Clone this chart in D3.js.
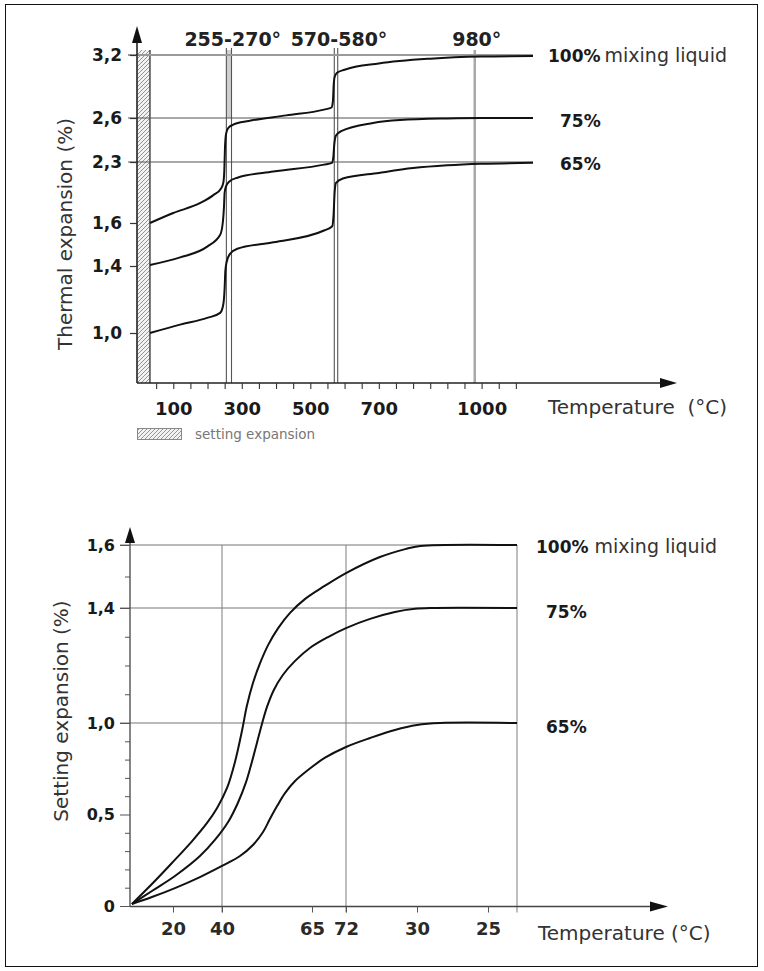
<!DOCTYPE html>
<html><head><meta charset="utf-8">
<script src="https://cdn.jsdelivr.net/npm/d3@7"></script>
<style>
body{margin:0;background:#fff}
svg{display:block}
text{font-family:"DejaVu Sans",Verdana,sans-serif}
</style>
</head><body>
<svg id="c" width="764" height="971"></svg>
<script>
// ---------- DATA ----------
// Top chart: thermal expansion (%) vs temperature (°C)
const thermalTickLevels = [1.0, 1.4, 1.6, 2.3, 2.6, 3.2];
const thermalGridLevels = [2.3, 2.6, 3.2];
const thermalTickTemps = [100, 300, 500, 700, 1000];
const transitionTemps = [255, 270, 570, 580];
const transitionMajor = 980;
const transitionLabels = ["255-270°", "570-580°", "980°"];
const transitionLabelTemps = [262, 575, 980];
const thermal100 = [[32,1.6],[100,1.715],[179,1.83],[217,1.92],[240,2.0],[246,2.06],[249,2.2],[251,2.4],[254,2.49],[260,2.53],[275,2.555],[320,2.58],[430,2.625],[540,2.68],[562,2.7],[566,2.76],[568,2.9],[571,2.99],[578,3.03],[600,3.06],[700,3.12],[850,3.165],[1000,3.185],[1150,3.19]];
const thermal75  = [[32,1.405],[120,1.44],[199,1.49],[237,1.545],[245,1.62],[248,1.78],[250,1.95],[254,2.02],[262,2.07],[287,2.12],[392,2.19],[540,2.27],[563,2.29],[567,2.33],[570,2.42],[575,2.48],[590,2.51],[683,2.566],[762,2.586],[900,2.597],[1000,2.6],[1150,2.6]];
const thermal65  = [[32,1.0],[120,1.05],[199,1.09],[237,1.12],[246,1.17],[250,1.27],[252,1.37],[256,1.42],[265,1.455],[287,1.48],[392,1.51],[540,1.565],[564,1.585],[568,1.7],[571,1.95],[575,2.06],[595,2.11],[700,2.175],[800,2.23],[900,2.262],[1000,2.28],[1150,2.29]];
const thermalSeriesLabels = ["100%", "75%", "65%"];

// Bottom chart: setting expansion (%) vs time/temperature
const settingTickLevels = [0, 0.5, 1.0, 1.4, 1.6];
const settingGridLevels = [1.0, 1.4, 1.6];
const settingTickPos = [20, 40, 65, 72, 90, 110];
const settingTickLabels = ["20", "40", "65", "72", "30", "25"];
const settingGridPos = [40, 72, 118];
const setting100 = [[0.9,0.011],[10.2,0.12],[19.5,0.235],[27.8,0.355],[33.9,0.454],[38,0.536],[41.4,0.645],[43.6,0.787],[45.6,0.962],[46.9,1.059],[48.6,1.139],[50.6,1.209],[52.8,1.271],[55.6,1.33],[58.9,1.383],[63.1,1.429],[67.6,1.47],[72,1.511],[80.6,1.562],[87,1.587],[90.9,1.597],[118,1.6]];
const setting75  = [[0.9,0.011],[10.2,0.082],[20.8,0.164],[31,0.273],[37.1,0.361],[41.7,0.459],[44.4,0.563],[46.7,0.678],[48.3,0.787],[49.7,0.891],[51.1,0.995],[52.5,1.056],[54.4,1.115],[56.9,1.167],[60.3,1.216],[64.4,1.261],[68.3,1.299],[72,1.33],[78.1,1.362],[84.4,1.386],[89.5,1.397],[93.7,1.4],[118,1.4]];
const setting65  = [[0.9,0.011],[10.2,0.049],[20.8,0.098],[31,0.158],[40,0.219],[45,0.273],[48.6,0.333],[51.4,0.404],[53.3,0.475],[55.3,0.546],[57.5,0.617],[60.3,0.683],[63.9,0.743],[67.6,0.809],[72,0.869],[78.1,0.918],[84.4,0.962],[90,0.989],[96.5,1.0],[118,1.0]];
const settingSeriesLabels = ["100%", "75%", "65%"];

// ---------- DRAW ----------
const svg = d3.select("#c");
svg.append("rect").attr("x",5.5).attr("y",4.5).attr("width",752).attr("height",962)
  .attr("fill","none").attr("stroke","#111").attr("stroke-width",1);

const defs = svg.append("defs");
const pat = defs.append("pattern").attr("id","hatch").attr("patternUnits","userSpaceOnUse")
  .attr("width",4).attr("height",4);
pat.append("rect").attr("width",4).attr("height",4).attr("fill","#f2f2f2");
pat.append("path").attr("d","M-1,1 l2,-2 M0,4 l4,-4 M3,5 l2,-2").attr("stroke","#8a8a8a").attr("stroke-width",0.9);

const comma = d => d === 0 ? "0" : d.toFixed(1).replace(".", ",");
const lineCol = "#111";

// ===== TOP CHART =====
const xT = d3.scaleLinear().domain([0, 1150]).range([139, 533]);
const yT = d3.scaleLinear().domain([0.7, 1.0, 1.4, 1.6, 2.3, 2.6, 3.2]).range([383, 333, 266, 223, 162, 118, 55]);
const axisX0 = 137, topBase = 383, topTop = 50;
const gTop = svg.append("g");

gTop.append("rect").attr("x",axisX0).attr("y",topTop).attr("width",xT(32)-axisX0).attr("height",topBase-topTop)
  .attr("fill","url(#hatch)");
gTop.append("line").attr("x1",xT(32)).attr("x2",xT(32)).attr("y1",topTop).attr("y2",topBase)
  .attr("stroke","#333").attr("stroke-width",1.3);

gTop.append("rect").attr("x",xT(transitionTemps[0])).attr("y",topTop)
  .attr("width",xT(transitionTemps[1])-xT(transitionTemps[0])).attr("height",yT(2.6)-topTop)
  .attr("fill","#cfcfcf");
gTop.selectAll("line.tr").data(transitionTemps).join("line").attr("class","tr")
  .attr("x1",d=>xT(d)).attr("x2",d=>xT(d)).attr("y1",48).attr("y2",topBase)
  .attr("stroke","#555").attr("stroke-width",1.1);
gTop.append("line").attr("x1",xT(transitionMajor)).attr("x2",xT(transitionMajor)).attr("y1",topTop).attr("y2",topBase)
  .attr("stroke","#a8a8a8").attr("stroke-width",2.5);

gTop.selectAll("line.gr").data(thermalGridLevels).join("line").attr("class","gr")
  .attr("x1",128).attr("x2",xT(1150)).attr("y1",d=>yT(d)).attr("y2",d=>yT(d))
  .attr("stroke",d=>d===3.2?"#9a9a9a":"#555").attr("stroke-width",d=>d===3.2?2:1.2);

const lineT = d3.line().x(d=>xT(d[0])).y(d=>yT(d[1])).curve(d3.curveMonotoneX);
[thermal100, thermal75, thermal65].forEach(s=>{
  gTop.append("path").attr("d",lineT(s)).attr("fill","none").attr("stroke",lineCol).attr("stroke-width",2);
});

gTop.append("line").attr("x1",axisX0).attr("x2",axisX0).attr("y1",36).attr("y2",topBase)
  .attr("stroke","#222").attr("stroke-width",1.6);
gTop.append("path").attr("d",`M${axisX0},26 L${axisX0-5},43 L${axisX0+5},43 Z`).attr("fill","#111");
const yAxT = gTop.append("g").attr("transform",`translate(${axisX0},0)`)
  .call(d3.axisLeft(yT).tickValues(thermalTickLevels).tickSize(7).tickPadding(8).tickFormat(comma));
yAxT.select(".domain").remove();
yAxT.selectAll("line").attr("stroke","#333").attr("stroke-width",1.2);
yAxT.selectAll("text").attr("font-size",17).attr("font-weight","bold").attr("fill","#1a1a1a")
  .attr("font-family","'DejaVu Sans',sans-serif");

gTop.append("line").attr("x1",axisX0).attr("x2",664).attr("y1",topBase).attr("y2",topBase)
  .attr("stroke","#222").attr("stroke-width",1.6);
gTop.append("path").attr("d",`M677,${topBase} L660,${topBase-5} L660,${topBase+5} Z`).attr("fill","#111");
const xAxT = gTop.append("g").attr("transform",`translate(0,${topBase})`)
  .call(d3.axisBottom(xT).tickValues(d3.range(50,1101,50)).tickSize(6).tickPadding(13)
    .tickFormat(d=>thermalTickTemps.includes(d)?String(d):""));
xAxT.select(".domain").remove();
xAxT.selectAll("line").attr("stroke","#333").attr("stroke-width",1.1);
xAxT.selectAll("text").attr("font-size",18).attr("font-weight","bold").attr("fill","#1a1a1a")
  .attr("font-family","'DejaVu Sans',sans-serif");

gTop.selectAll("text.tl").data(transitionLabels).join("text").attr("class","tl")
  .attr("x",(d,i)=>xT(transitionLabelTemps[i])+ (i===0?4:(i===1?3:2))).attr("y",46)
  .attr("text-anchor","middle").attr("font-size",19).attr("font-weight","bold").attr("fill","#222").text(d=>d);

gTop.append("text").attr("transform","translate(72,234) rotate(-90)").attr("text-anchor","middle")
  .attr("font-size",20).attr("fill","#333").text("Thermal expansion (%)");
gTop.append("text").attr("x",548).attr("y",414).attr("font-size",20).attr("fill","#333")
  .attr("xml:space","preserve").text("Temperature  (°C)");

const tl100 = gTop.append("text").attr("x",548).attr("y",62).attr("font-size",17).attr("fill","#1a1a1a");
tl100.append("tspan").attr("font-weight","bold").text(thermalSeriesLabels[0]);
tl100.append("tspan").attr("font-size",19).attr("fill","#333").attr("dx",4).text("mixing liquid");
gTop.append("text").attr("x",560).attr("y",127).attr("font-size",17).attr("font-weight","bold").attr("fill","#1a1a1a").text(thermalSeriesLabels[1]);
gTop.append("text").attr("x",560).attr("y",170).attr("font-size",17).attr("font-weight","bold").attr("fill","#1a1a1a").text(thermalSeriesLabels[2]);

gTop.append("rect").attr("x",137.5).attr("y",428.5).attr("width",44).attr("height",11)
  .attr("fill","url(#hatch)").attr("stroke","#888").attr("stroke-width",1);
gTop.append("text").attr("x",195).attr("y",439).attr("font-size",13.5).attr("fill","#777").text("setting expansion");

// ===== BOTTOM CHART =====
const xB = d3.scaleLinear().domain([0,20,40,65,72,90,110,118]).range([130,173,222,312,346,417,488,517]);
const yB = d3.scaleLinear().domain([0,1.0,1.4,1.6]).range([906,723,608,545]);
const bx0 = 130, bBase = 906.5;
const gBot = svg.append("g");

gBot.selectAll("line.gh").data(settingGridLevels).join("line").attr("class","gh")
  .attr("x1",120).attr("x2",xB(118)).attr("y1",d=>yB(d)).attr("y2",d=>yB(d))
  .attr("stroke","#777").attr("stroke-width",1.1);
gBot.selectAll("line.gv").data(settingGridPos).join("line").attr("class","gv")
  .attr("x1",d=>xB(d)).attr("x2",d=>xB(d)).attr("y1",yB(1.6)).attr("y2",bBase+6)
  .attr("stroke","#888").attr("stroke-width",1.1);

const lineB = d3.line().x(d=>xB(d[0])).y(d=>yB(d[1])).curve(d3.curveCatmullRom.alpha(0.5));
[setting100, setting75, setting65].forEach(s=>{
  gBot.append("path").attr("d",lineB(s)).attr("fill","none").attr("stroke",lineCol).attr("stroke-width",2);
});

gBot.append("line").attr("x1",bx0).attr("x2",bx0).attr("y1",538).attr("y2",bBase)
  .attr("stroke","#444").attr("stroke-width",1.3);
gBot.append("path").attr("d",`M${bx0},527 L${bx0-5},543 L${bx0+5},543 Z`).attr("fill","#111");
const minorB = gBot.append("g").attr("transform",`translate(${bx0},0)`)
  .call(d3.axisLeft(yB).tickValues(d3.range(1,16).map(i=>i/10).filter(v=>!settingTickLevels.some(t=>Math.abs(t-v)<1e-6))).tickSize(5).tickFormat(""));
minorB.select(".domain").remove();
minorB.selectAll("line").attr("stroke","#555");
const yAxB = gBot.append("g").attr("transform",`translate(${bx0},0)`)
  .call(d3.axisLeft(yB).tickValues(settingTickLevels).tickSize(10).tickPadding(5).tickFormat(comma));
yAxB.select(".domain").remove();
yAxB.selectAll("line").attr("stroke","#555");
yAxB.selectAll("text").attr("font-size",16).attr("font-weight","bold").attr("fill","#1a1a1a")
  .attr("font-family","'DejaVu Sans',sans-serif");

gBot.append("line").attr("x1",bx0).attr("x2",652).attr("y1",bBase).attr("y2",bBase)
  .attr("stroke","#444").attr("stroke-width",1.3);
gBot.append("path").attr("d",`M668,${bBase} L650,${bBase-5} L650,${bBase+5} Z`).attr("fill","#111");
const xAxB = gBot.append("g").attr("transform",`translate(0,${bBase})`)
  .call(d3.axisBottom(xB).tickValues(settingTickPos).tickSize(6).tickPadding(10)
    .tickFormat((d,i)=>settingTickLabels[i]));
xAxB.select(".domain").remove();
xAxB.selectAll("line").attr("stroke","#555");
xAxB.selectAll("text").attr("font-size",18).attr("font-weight","bold").attr("fill","#2a2a2a")
  .attr("font-family","'DejaVu Sans',sans-serif");

gBot.append("text").attr("transform","translate(68,711) rotate(-90)").attr("text-anchor","middle")
  .attr("font-size",20).attr("fill","#333").text("Setting expansion (%)");
gBot.append("text").attr("x",538).attr("y",940).attr("font-size",20).attr("fill","#333").text("Temperature (°C)");

const bl100 = gBot.append("text").attr("x",536).attr("y",553).attr("font-size",17).attr("fill","#1a1a1a");
bl100.append("tspan").attr("font-weight","bold").text(settingSeriesLabels[0]);
bl100.append("tspan").attr("font-size",19).attr("fill","#333").attr("dx",6).text("mixing liquid");
gBot.append("text").attr("x",546).attr("y",618).attr("font-size",17).attr("font-weight","bold").attr("fill","#1a1a1a").text(settingSeriesLabels[1]);
gBot.append("text").attr("x",546).attr("y",733).attr("font-size",17).attr("font-weight","bold").attr("fill","#1a1a1a").text(settingSeriesLabels[2]);
</script>
</body></html>
